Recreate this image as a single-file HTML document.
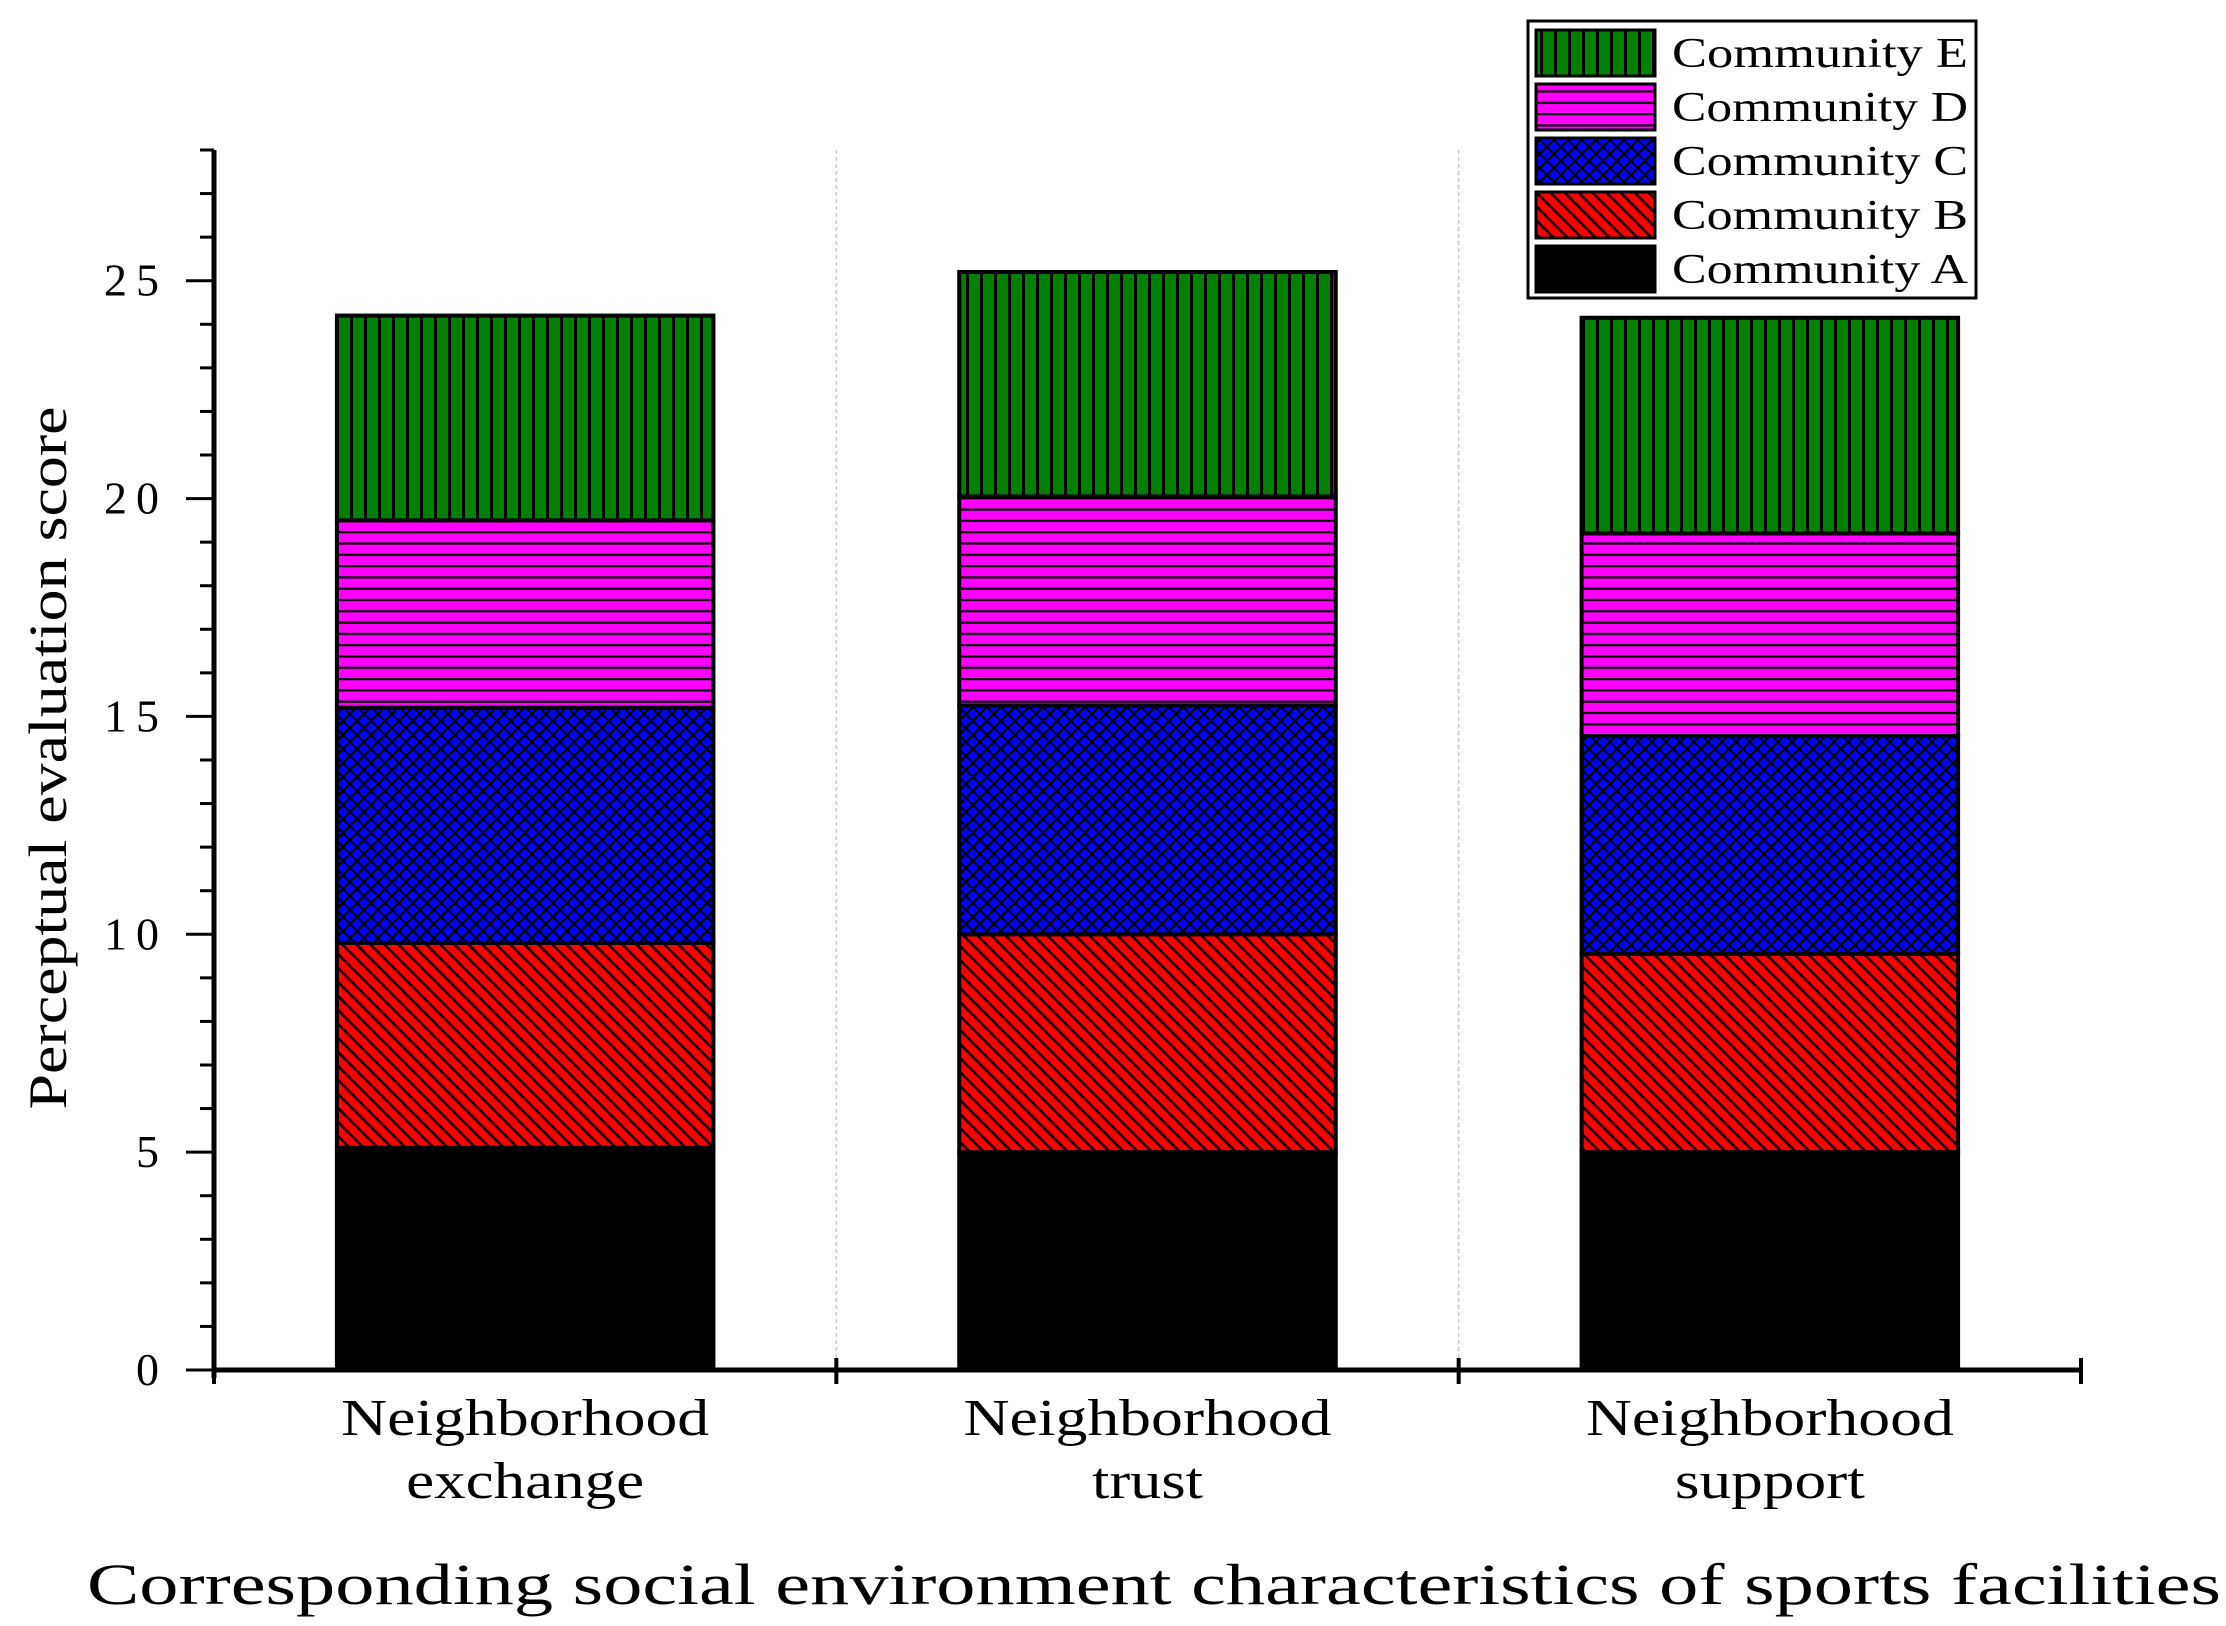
<!DOCTYPE html>
<html><head><meta charset="utf-8"><style>html,body{margin:0;padding:0;background:#fff}svg{display:block}text{font-family:"Liberation Serif",serif;fill:#000}</style></head>
<body>
<svg id="chart" width="2226" height="1626" viewBox="0 0 2226 1626" xmlns="http://www.w3.org/2000/svg">
<defs>
<pattern id="pE" patternUnits="userSpaceOnUse" width="14" height="14"><rect width="14" height="14" fill="#007f00"/><rect x="0" width="3" height="14" fill="#000"/></pattern>
<pattern id="pD" patternUnits="userSpaceOnUse" width="11.3" height="11.3"><rect width="11.3" height="11.3" fill="#ff00ff"/><rect y="0" width="11.3" height="2.2" fill="#000"/></pattern>
<pattern id="pC" patternUnits="userSpaceOnUse" width="14" height="14"><rect width="14" height="14" fill="#0000ff"/><path d="M0,0L14,14M14,0L0,14M-7,7L7,21M7,-7L21,7M-7,7L7,-7M7,21L21,7" stroke="#000" stroke-width="2.2"/></pattern>
<pattern id="pB" patternUnits="userSpaceOnUse" width="14" height="14"><rect width="14" height="14" fill="#ff0000"/><path d="M0,0L14,14M-7,7L7,21M7,-7L21,7" stroke="#000" stroke-width="2.6"/></pattern>
<pattern id="pA" patternUnits="userSpaceOnUse" width="10" height="10"><rect width="10" height="10" fill="#000"/></pattern>
</defs>
<g id="grid"></g>
<g id="bars"></g>
<g id="axes"></g>
<g id="legend"></g>
<text transform="translate(66,758) rotate(-90)" text-anchor="middle" font-size="54" textLength="703" lengthAdjust="spacingAndGlyphs">Perceptual evaluation score</text>
<text x="1154" y="1604" text-anchor="middle" font-size="58" textLength="2134" lengthAdjust="spacingAndGlyphs">Corresponding social environment characteristics of sports facilities</text>
</svg>
<script>
const categories = [["Neighborhood","exchange"],["Neighborhood","trust"],["Neighborhood","support"]];
const seriesNames = ["Community A","Community B","Community C","Community D","Community E"];
const seriesA = [5.1, 5.0, 5.0];
const seriesB = [4.7, 5.0, 4.55];
const seriesC = [5.4, 5.25, 5.0];
const seriesD = [4.3, 4.8, 4.65];
const seriesE = [4.7, 5.15, 4.95];
const yTicks = [0,5,10,15,20,25];

const NS="http://www.w3.org/2000/svg";
const x0=214, x1=2081, yBase=1370, yTop=150, yMax=28;
const y = v => yBase - v*(yBase-yTop)/yMax;
const bandW=(x1-x0)/categories.length;
const xc = i => x0 + bandW*(i+0.5);
const barW=bandW*0.605;
const fills=["url(#pA)","url(#pB)","url(#pC)","url(#pD)","url(#pE)"];
const series=[seriesA,seriesB,seriesC,seriesD,seriesE];
const line2W=[238,111,190];
function mk(tag,attrs,parent){const e=document.createElementNS(NS,tag);for(const k in attrs)e.setAttribute(k,attrs[k]);parent.appendChild(e);return e;}
const grid=document.getElementById('grid'),bars=document.getElementById('bars'),axes=document.getElementById('axes'),legend=document.getElementById('legend');

for(let i=1;i<categories.length;i++){
  const gx=x0+bandW*i;
  const l=mk('line',{x1:gx,x2:gx,y1:yTop,y2:yBase,stroke:'#c8c8c8','stroke-width':1.5,'stroke-dasharray':'4,3'},grid);
  
  
}
categories.forEach((c,i)=>{
  let cum=0;
  series.forEach((s,k)=>{
    const v=s[i];
    const r=mk('rect',{x:xc(i)-barW/2,y:y(cum+v),width:barW,height:y(cum)-y(cum+v),fill:fills[k],stroke:'#000','stroke-width':4},bars);
    
    
    cum+=v;
  });
  const t1=mk('text',{x:xc(i),y:1435,'text-anchor':'middle','font-size':52,textLength:368,lengthAdjust:'spacingAndGlyphs'},axes);
  t1.textContent=c[0];
  
  
  const t2=mk('text',{x:xc(i),y:1498,'text-anchor':'middle','font-size':52,textLength:line2W[i],lengthAdjust:'spacingAndGlyphs'},axes);
  t2.textContent=c[1];
  
  
});
const ya=mk('line',{x1:x0,x2:x0,y1:yTop,y2:yBase+8,stroke:'#000','stroke-width':5},axes);


const xa=mk('line',{x1:x0-2,x2:x1,y1:yBase,y2:yBase,stroke:'#000','stroke-width':5},axes);


for(let v=0;v<=yMax;v++){
  const major=v%5===0;
  const tk=mk('line',{x1:x0-(major?28:14),x2:x0,y1:y(v),y2:y(v),stroke:'#000','stroke-width':3},axes);
  
  
}
yTicks.forEach(v=>{
  const t=mk('text',{x:168,y:y(v)+15,'text-anchor':'end','font-size':46,'letter-spacing':9},axes);
  t.textContent=v;
  
  
});
for(let i=0;i<=categories.length;i++){
  const gx=x0+bandW*i;
  const tk=mk('line',{x1:gx,x2:gx,y1:yBase-12,y2:yBase+14,stroke:'#000','stroke-width':4},axes);
  
  
}
const box=mk('rect',{x:1528,y:21,width:448,height:277,fill:'#fff',stroke:'#000','stroke-width':3},legend);


for(let k=4;k>=0;k--){
  const row=4-k, ry=28+row*54;
  const sw=mk('rect',{x:1536,y:ry+2,width:119,height:46,fill:fills[k],stroke:'#000','stroke-width':3},legend);
  
  
  const t=mk('text',{x:1672,y:ry+39,'font-size':42,textLength:296,lengthAdjust:'spacingAndGlyphs'},legend);
  t.textContent=seriesNames[k];
  
  
}
</script>
</body></html>
